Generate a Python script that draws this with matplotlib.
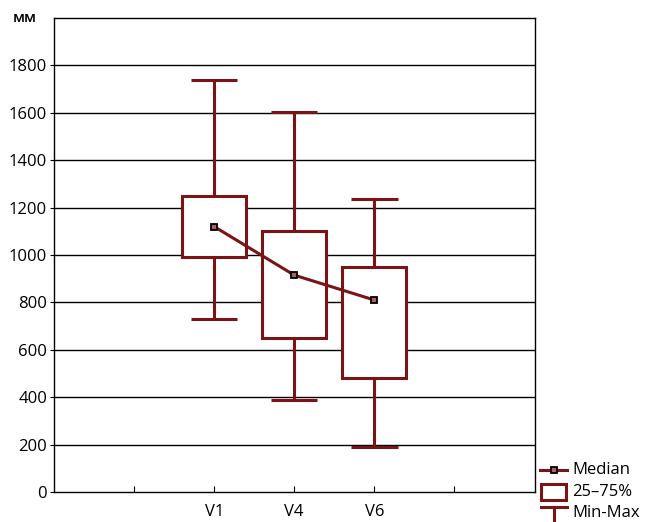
import matplotlib.pyplot as plt
from matplotlib.patches import Rectangle
from matplotlib.lines import Line2D

plt.rcParams['font.family'] = ['Open Sans', 'DejaVu Sans']

# values (mm)
groups = ['V1', 'V4', 'V6']
mins = [730, 390, 190]
q1 = [990, 648, 480]
medians = [1120, 915, 810]
q3 = [1250, 1100, 948]
maxs = [1740, 1602, 1235]

red = '#7b1416'
pos = [2, 3, 4]
box_w = 0.8
cap_w = 0.58

fig = plt.figure(figsize=(6.45, 5.22), dpi=100)
ax = fig.add_axes([0.0837, 0.0575, 0.745, 0.908])

ax.set_xlim(0, 6)
ax.set_ylim(0, 2000)
for y in range(200, 2000, 200):
    ax.axhline(y, color='black', lw=1, zorder=1)

for x, lo, a, m, b, hi in zip(pos, mins, q1, medians, q3, maxs):
    ax.vlines(x, lo, a, color=red, lw=2.2, zorder=2)
    ax.vlines(x, b, hi, color=red, lw=2.2, zorder=2)
    ax.hlines([lo, hi], x - cap_w / 2, x + cap_w / 2, color=red, lw=2.2, zorder=2)
    ax.add_patch(Rectangle((x - box_w / 2, a), box_w, b - a, facecolor='white',
                           edgecolor=red, lw=2.2, zorder=3))

ax.plot(pos, medians, color=red, lw=2.2, marker='s', markersize=5,
        markerfacecolor='#b06060', markeredgecolor='black', markeredgewidth=1.3, zorder=4)

ax.set_xticks([1, 2, 3, 4, 5])
ax.set_xticklabels(['', 'V1', 'V4', 'V6', ''])
ax.set_yticks(range(0, 2000, 200))
ax.tick_params(axis='x', direction='in', length=4, labelsize=12, pad=9)
ax.tick_params(axis='y', direction='out', length=3, labelsize=12, pad=2)
for s in ax.spines.values():
    s.set_linewidth(1)

fig.text(0.019, 0.966, 'мм', fontsize=11, fontweight='semibold', ha='left', va='center')

# legend drawn by hand, outside the axes
def fx(px):
    return px / 645

def fy(py):
    return 1 - py / 522

fig.add_artist(Line2D([fx(540), fx(567)], [fy(470), fy(470)], color=red, lw=2.2))
fig.add_artist(Line2D([fx(553.5)], [fy(470)], marker='s', markersize=5, color=red,
                      markerfacecolor='#b06060', markeredgecolor='black', markeredgewidth=1.3))
fig.add_artist(Rectangle((fx(541), fy(500)), fx(25), 16 / 522, facecolor='white',
                         edgecolor=red, lw=2.2, transform=fig.transFigure))
fig.add_artist(Line2D([fx(541), fx(567)], [fy(507), fy(507)], color=red, lw=2.2))
fig.add_artist(Line2D([fx(554), fx(554)], [fy(507), fy(522)], color=red, lw=2.2))
fig.text(fx(572), fy(470), 'Median', fontsize=12, va='center')
fig.text(fx(572), fy(492), '25\u201375%', fontsize=12, va='center')
fig.text(fx(572), fy(513), 'Min-Max', fontsize=12, va='center')

fig.savefig('out.png', dpi=100)
